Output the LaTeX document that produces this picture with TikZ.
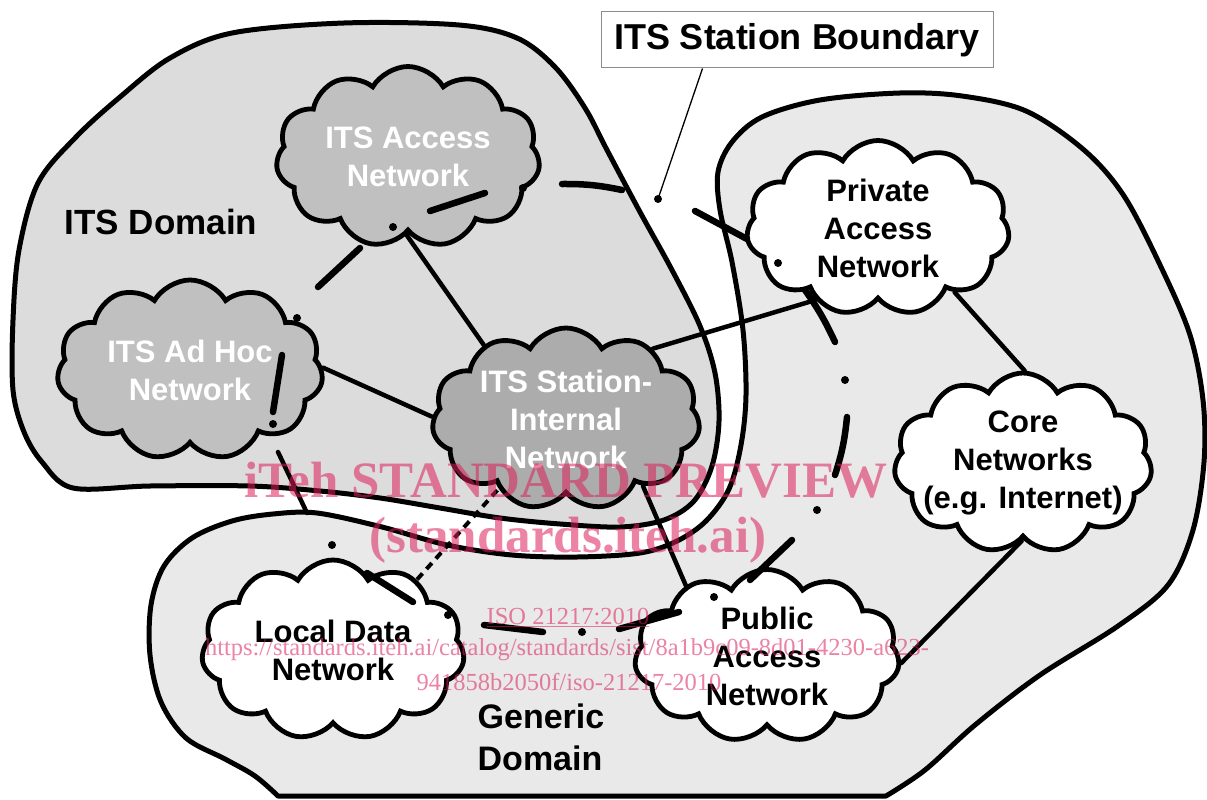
\documentclass[tikz,border=0pt]{standalone}
\usepackage{fontspec}
\setmainfont{Liberation Sans}
\newfontfamily\wmfont{Liberation Serif}
\usetikzlibrary{shapes.symbols}
\pgfdeclarelayer{bg}
\pgfdeclarelayer{conn}
\pgfdeclarelayer{fg}
\pgfdeclarelayer{wm}
\pgfsetlayers{bg,conn,main,fg,wm}
\definecolor{itsfill}{RGB}{220,220,220}
\definecolor{genfill}{RGB}{233,233,233}
\definecolor{cloudgray}{RGB}{192,192,192}
\definecolor{cloudgraydark}{RGB}{172,172,172}
\definecolor{wmpink}{RGB}{220,30,90}
\definecolor{boxgray}{RGB}{140,140,140}
\tikzset{
  domainline/.style={line width=5pt, line join=round},
  netcloud/.style={cloud, cloud puffs=11, cloud puff arc=120, cloud ignores aspect, draw=black, line width=4.8pt, inner sep=0pt},
  itscloud/.style={netcloud, fill=cloudgray},
  stacloud/.style={netcloud, fill=cloudgraydark},
  gencloud/.style={netcloud, fill=white},
  cloudtext/.style={align=center, font=\fontsize{31}{38}\selectfont\bfseries, inner sep=0pt},
  domtext/.style={font=\fontsize{35}{42}\selectfont\bfseries, inner sep=0pt},
  conn/.style={line width=4.5pt, line cap=round},
  wdash/.style={line width=6.5pt, line cap=round},
  thindash/.style={line width=4pt, dash pattern=on 8pt off 6pt},
  wmark/.style={text=wmpink, text opacity=0.55, inner sep=0pt, anchor=base},
}
\begin{document}
\begin{tikzpicture}[x=1pt,y=-1pt]
\useasboundingbox (0,0) rectangle (1207,800);

% ---------- domains ----------
\begin{pgfonlayer}{bg}
\draw[domainline, fill=genfill] plot[smooth, tension=0.55] coordinates {
 (278,796) (255,776) (225,759) (186,738) (161,702) (150,655) (151,605)
 (164,566) (192,538) (232,521) (273,514) (317,513) (382,527) (447,545)
 (512,555) (577,557) (640,553) (677,541) (706,521) (729,489) (741,445)
 (746,395) (743,330) (732,262) (720,210) (718,172) (732,142) (762,117)
 (820,100) (900,93) (962,96) (1026,111) (1084,150) (1124,196) (1161,267)
 (1190,335) (1203,400) (1204,462) (1193,530) (1168,585) (1118,626)
 (1040,675) (975,725) (925,770) (886,796)} -- cycle;
\draw[domainline, fill=itsfill] plot[smooth cycle, tension=0.55] coordinates {
 (73,488) (42,462) (24,432) (13,390) (13,320) (19,250) (38,183) (76,137)
 (120,97) (170,58) (232,33) (344,23) (459,25) (517,38) (555,67) (585,108)
 (607,150) (640,212) (672,270) (700,326) (715,373) (719,421) (712,466)
 (694,501) (664,520) (620,527) (560,524) (500,518) (440,508) (380,498)
 (320,491) (250,486) (150,486)};
\end{pgfonlayer}

% ---------- clouds ----------
\node[itscloud, minimum width=264pt, minimum height=181pt] (acc) at (408,157) {};
\node[itscloud, minimum width=266pt, minimum height=180pt] (adhoc) at (190,370) {};
\node[stacloud, minimum width=268pt, minimum height=182pt] (sta) at (566,419) {};
\node[gencloud, minimum width=263pt, minimum height=175pt] (priv) at (878,228) {};
\node[gencloud, minimum width=258pt, minimum height=180pt] (core) at (1023,463) {};
\node[gencloud, minimum width=263pt, minimum height=180pt] (loc) at (333,650) {};
\node[gencloud, minimum width=265pt, minimum height=173pt] (pub) at (767,656) {};

\node[cloudtext, text=white] (acct) at (acc) {ITS Access\\Network};
\node[cloudtext, text=white] (adhoct) at (adhoc) {ITS Ad Hoc\\Network};
\node[cloudtext, text=white] (stat) at (sta) {ITS Station-\\Internal\\Network};
\node[cloudtext] (privt) at (priv) {Private\\Access\\Network};
\node[cloudtext] (coret) at (core) {Core\\Networks\\(e.g. Internet)};
\node[cloudtext] (loct) at (loc) {Local Data\\Network};
\node[cloudtext] (pubt) at (pub) {Public\\Access\\Network};

% ---------- domain labels and boundary label ----------
\node[domtext] (itsdom) at (161,222) {ITS Domain};
\node[domtext, font=\fontsize{34}{42}\selectfont\bfseries, align=left] (gendom) at (541,737) {Generic\\Domain};
\node[domtext, font=\fontsize{36}{42}\selectfont\bfseries, draw=boxgray, line width=1pt, fill=white, minimum width=392pt, minimum height=56pt] (lbl) at (797,40) {ITS Station Boundary};

% ---------- solid connectors ----------
\begin{pgfonlayer}{conn}
\draw[conn] (acc.269) -- (sta.138);
\draw[conn] (adhoc.1) -- (sta.179);
\draw[conn] (sta.39) -- (priv.229);
\draw[conn] (sta.319) -- (pub.139);
\draw[conn] (priv.320) -- (core.89);
\draw[conn] (core.269) -- (pub.357);
\coordinate (ah1) at (278,452);
\coordinate (gb1) at (307,513);
\draw[conn] (ah1) -- (gb1);
\draw[thindash] (loc.40) -- (sta.226);
\end{pgfonlayer}

% ---------- leader line ----------
\path (lbl.south west) ++(102,0) coordinate (ldtop);
\coordinate (lddot) at (658,199);
\draw[line width=1.3pt] (ldtop) -- (lddot);

% ---------- dash-dot links ----------
\begin{pgfonlayer}{fg}
% ITS access -> private access
\draw[wdash] (430,211) -- (485,193);
\fill (523,188) circle (4pt);
\draw[wdash] (562,184) to[bend left=6] (622,190);
\fill (lddot) circle (4pt);
\draw[wdash] (695,211) -- (747,239);
% ITS access -> ad hoc
\fill (393,227) circle (4pt);
\draw[wdash] (360,248) -- (318,287);
\fill (297,318) circle (4pt);
\draw[wdash] (282,355) -- (273,412);
\fill (273,424) circle (4pt);
% private -> public
\fill (778,263) circle (4pt);
\draw[wdash] (805,290) to[bend left=5] (835,342);
\fill (845,380) circle (4pt);
\draw[wdash] (847,417) to[bend left=6] (835,475);
\fill (817,510) circle (4pt);
\draw[wdash] (792,540) -- (750,580);
\fill (714,597) circle (4pt);
% ad hoc -> local -> public
\fill (332,545) circle (4pt);
\draw[wdash] (367,573) -- (413,602);
\fill (448,615) circle (4pt);
\draw[wdash] (484,625) -- (543,632);
\fill (582,632) circle (4pt);
\draw[wdash] (619,629) -- (679,612);
\end{pgfonlayer}

% ---------- watermark ----------
\begin{pgfonlayer}{wm}
\node[wmark, font=\wmfont\bfseries\fontsize{51}{60}\selectfont] (wm1) at (566,497) {iTeh STANDARD PREVIEW};
\node[wmark, font=\wmfont\bfseries\fontsize{51}{60}\selectfont] (wm2) at (568,552) {(standards.iteh.ai)};
\node[wmark, font=\wmfont\fontsize{24.5}{30}\selectfont] (wm3) at (568,624) {\underline{ISO 21217:2010}};
\node[wmark, font=\wmfont\fontsize{24.5}{30}\selectfont] (wm4) at (567,655) {https://standards.iteh.ai/catalog/standards/sist/8a1b9c09-8d01-4230-a623-};
\node[wmark, font=\wmfont\fontsize{24.5}{30}\selectfont] (wm5) at (569,690) {941858b2050f/iso-21217-2010};
\end{pgfonlayer}
\end{tikzpicture}
\end{document}
